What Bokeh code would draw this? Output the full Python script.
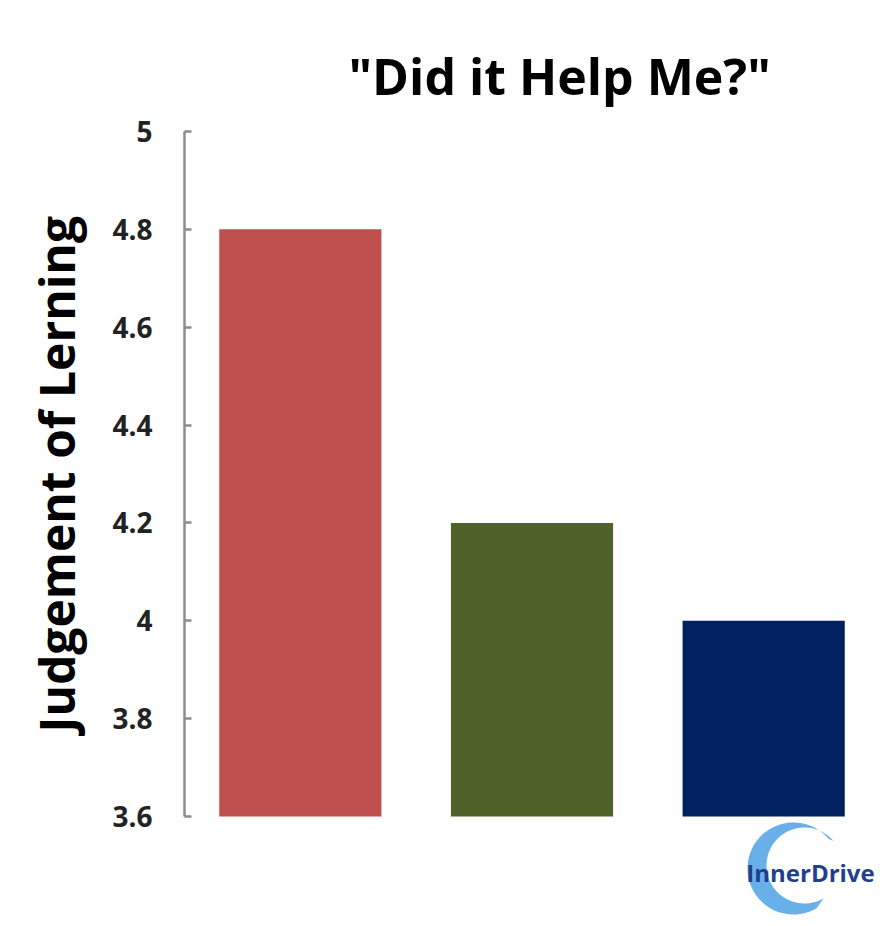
from bokeh.plotting import figure
from bokeh.models import Range1d, FactorRange, Label, PolyAnnotation, Title
from bokeh.embed import file_html
from bokeh.resources import INLINE
import numpy as np

categories = ["Condition A", "Condition B", "Condition C"]
values = [4.8, 4.2, 4.0]
colors = ["#C0504D", "#4F6228", "#002060"]
y_ticks = [3.6, 3.8, 4.0, 4.2, 4.4, 4.6, 4.8, 5.0]
y_tick_labels = {3.6: "3.6", 3.8: "3.8", 4.0: "4", 4.2: "4.2", 4.4: "4.4", 4.6: "4.6", 4.8: "4.8", 5.0: "5"}
y_min, y_max = 3.6, 5.0

W, H = 886, 918
BL, BR, BT = 182, 7, 131
AXIS_BOTTOM_GAP = 102  # px between the 3.6 line and the canvas bottom (logo area)
FONT = "Open Sans"

axis_px = H - BT - AXIS_BOTTOM_GAP
range_start = y_min - AXIS_BOTTOM_GAP * (y_max - y_min) / axis_px

p = figure(width=W, height=H, x_range=FactorRange(*categories), y_range=Range1d(range_start, y_max),
           output_backend="svg", toolbar_location=None,
           min_border_left=BL, min_border_right=BR, min_border_top=BT, min_border_bottom=0)
p.title = Title(text='"Did it Help Me?"', text_font=FONT, text_font_size="50px",
                text_font_style="bold", align="left", offset=164, standoff=44, text_color="#000000")

p.vbar(x=categories, top=values, bottom=y_min, width=0.7, color=colors, line_color=None)

p.xaxis.visible = False
p.xgrid.grid_line_color = None
p.ygrid.grid_line_color = None
p.outline_line_color = None

ya = p.yaxis[0]
ya.bounds = (y_min, y_max)
ya.ticker = y_ticks
ya.major_label_overrides = y_tick_labels
ya.major_label_text_font = FONT
ya.major_label_text_font_style = "bold"
ya.major_label_text_font_size = "28px"
ya.major_label_text_color = "#222222"
ya.major_label_standoff = 32
ya.axis_line_color = "#8c8c8c"
ya.axis_line_width = 2.5
ya.major_tick_line_color = "#8c8c8c"
ya.major_tick_line_width = 2.5
ya.major_tick_in = 7
ya.major_tick_out = 0
ya.minor_tick_line_color = None

# y-axis title, placed along the 3.6..5 span of the axis
p.add_layout(Title(text="Judgement of Lerning", text_font=FONT, text_font_size="48px",
                   text_font_style="bold", text_color="#000000", align="left",
                   offset=186, standoff=42), "left")

# logo (screen units: x from frame left, y up from frame bottom)
def fx(x_img):
    return x_img - 1 - BL
def fy(y_img):
    return H - (y_img - 1)

ocx, ocy, orad = 792, 869, 46
icx, icy, irad = 803, 866, 38
t1 = np.radians(np.linspace(40, 300, 60))
t2 = t1[::-1]
xs = [fx(ocx + orad * np.cos(t)) for t in t1] + [fx(icx + irad * np.cos(t)) for t in t2]
ys = [fy(ocy - orad * np.sin(t)) for t in t1] + [fy(icy - irad * np.sin(t)) for t in t2]
p.add_layout(PolyAnnotation(xs=xs, ys=ys, xs_units="screen", ys_units="screen",
                            fill_color="#5AA7E6", fill_alpha=0.9, line_color=None))
p.add_layout(Label(x=fx(809), y=fy(873), x_units="screen", y_units="screen",
                   text="InnerDrive", text_font=FONT, text_font_style="bold",
                   text_font_size="24px", text_color="#1F3F8F", text_align="center",
                   text_baseline="middle"))

open("out.html", "w").write(file_html(p, INLINE))
